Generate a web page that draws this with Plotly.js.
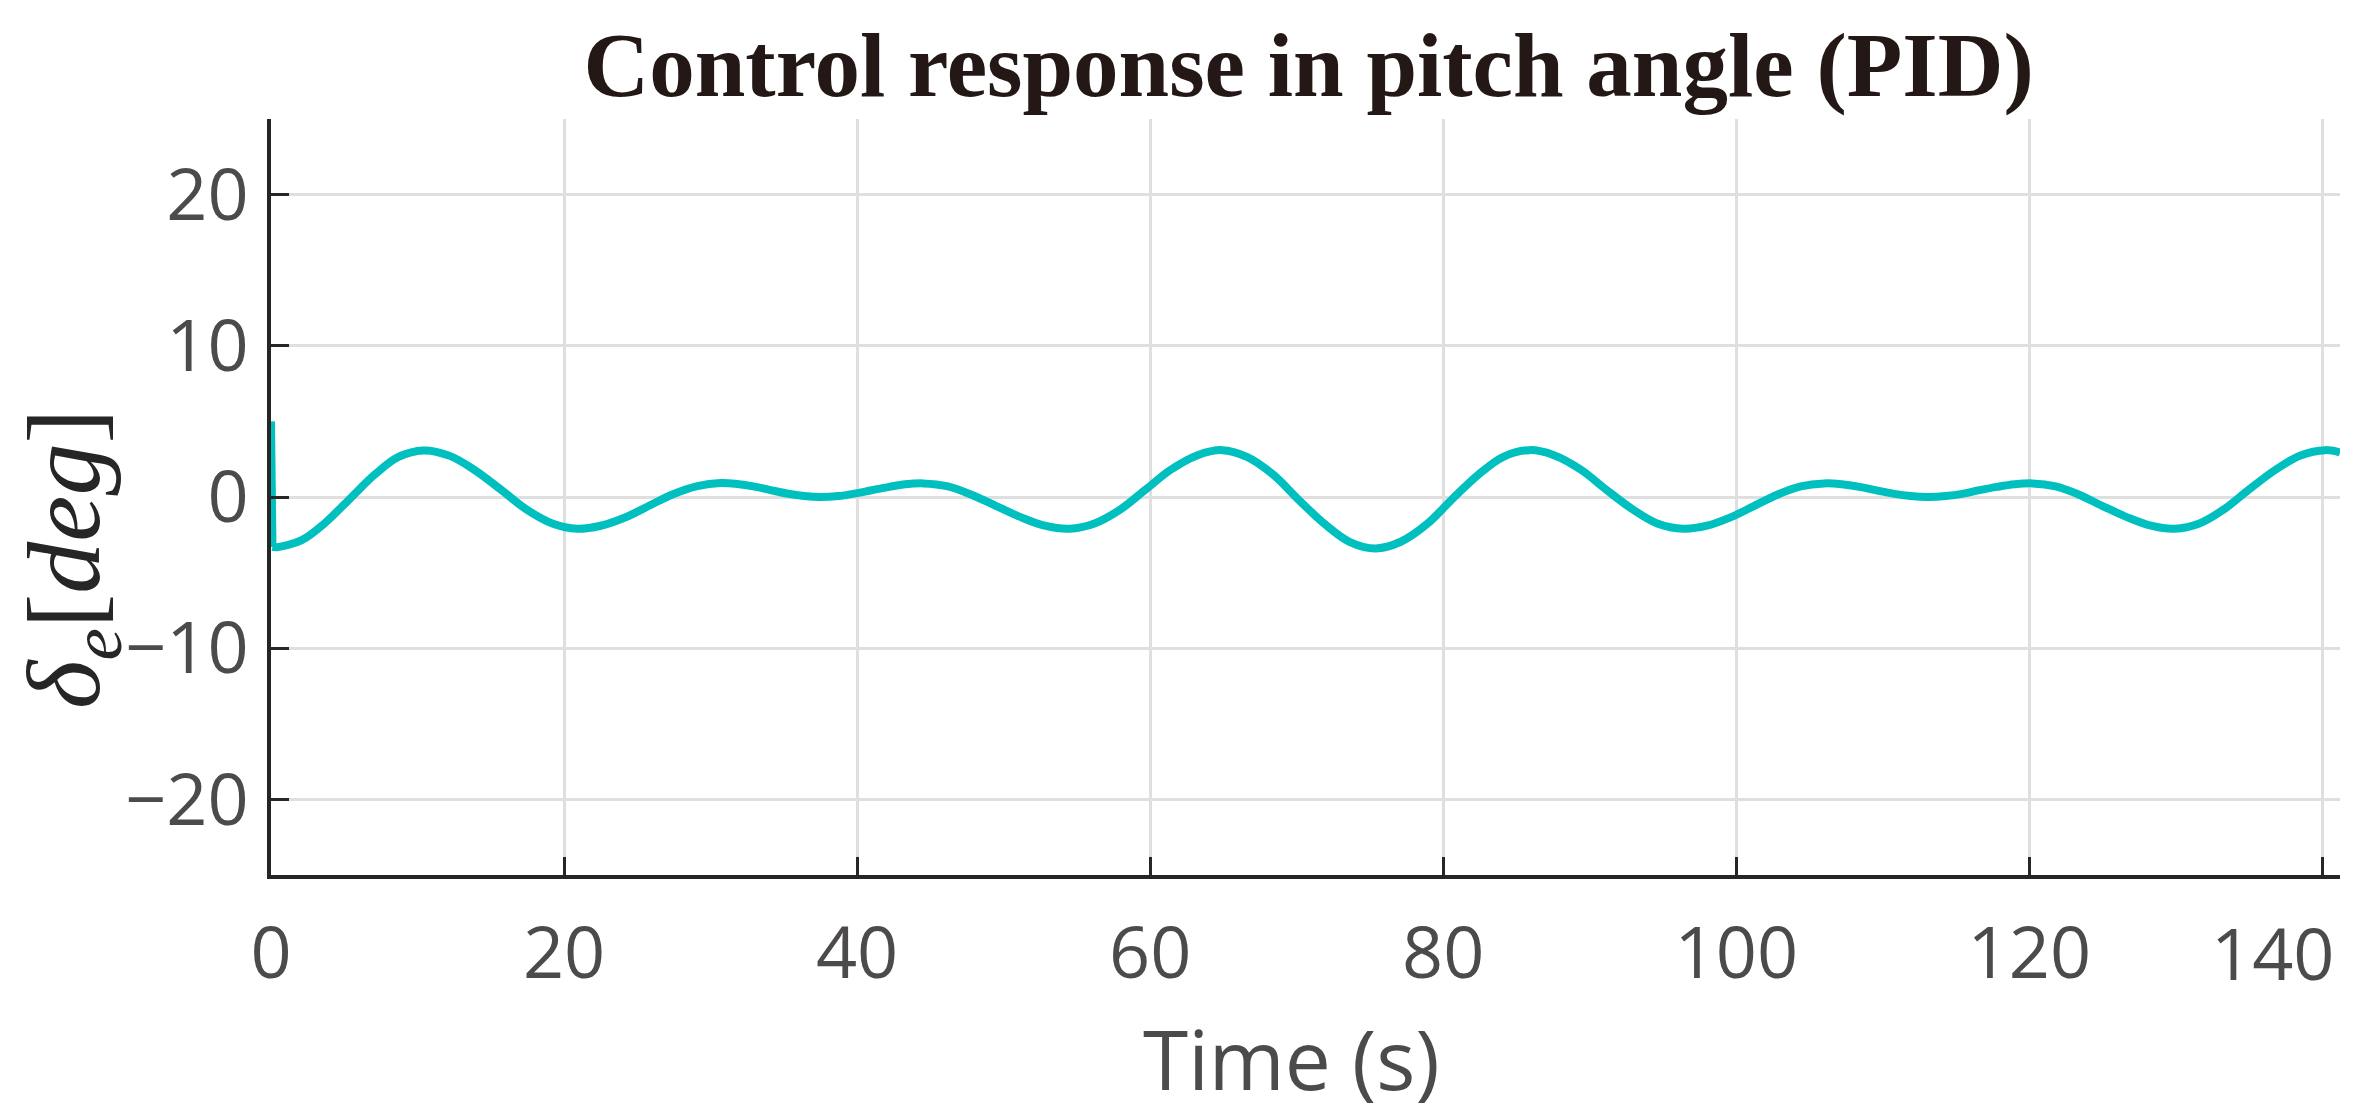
<!DOCTYPE html>
<html>
<head>
<meta charset="utf-8">
<script src="https://cdn.plot.ly/plotly-3.0.1.min.js"></script>
<style>
  html, body { margin: 0; padding: 0; background: #ffffff; }
  #chart { width: 2375px; height: 1119px; }
</style>
</head>
<body>
<div id="chart"></div>
<script>
// ---- Data ----
const chartTitle = "Control response in pitch angle (PID)";
const xTitle = "Time (s)";
const xTicks = [0, 20, 40, 60, 80, 100, 120, 140];
const xTickText = ["0", "20", "40", "60", "80", "100", "120", ""];
const lastTickLabel = "140";   // drawn right-aligned at the plot edge, as in the reference
const yTicks = [-20, -10, 0, 10, 20];

// initial spike at t = 0
const spikeTime = [0, 0.1];
const spikeValue = [5.0, -3.3];

// elevator deflection response (deg) vs time (s)
const time = [
  0.1, 0.4, 2.1, 3.7, 5.4, 7.1, 8.7, 10.4,
  12.2, 13.9, 15.7, 17.4, 19.2, 20.9,
  22.5, 24.2, 25.8, 27.4, 29.1, 30.7,
  31.8, 33.0, 34.1, 35.2, 36.4, 37.5,
  38.7, 39.8, 41.0, 42.2, 43.3, 44.5,
  46.2, 47.8, 49.5, 51.2, 52.8, 54.5,
  56.2, 58.0, 59.7, 61.4, 63.2, 64.9,
  66.6, 68.4, 70.1, 71.9, 73.6, 75.4,
  77.1, 78.9, 80.6, 82.4, 84.1, 85.9,
  87.6, 89.4, 91.1, 92.9, 94.6, 96.4,
  98.0, 99.6, 101.2, 102.8, 104.4, 106.0,
  107.2, 108.4, 109.5, 110.7, 111.9, 113.1,
  114.3, 115.5, 116.6, 117.8, 119.0, 120.2,
  121.8, 123.4, 125.0, 126.7, 128.3, 129.9,
  131.6, 133.3, 135.0, 136.8, 138.5, 140.2, 141.2
];
const elevator = [
  -3.3, -3.32, -2.85, -1.7, -0.1, 1.5, 2.65, 3.08,
  2.72, 1.78, 0.48, -0.8, -1.75, -2.1,
  -1.9, -1.34, -0.58, 0.17, 0.72, 0.92,
  0.86, 0.69, 0.46, 0.23, 0.06, 0.0,
  0.06, 0.22, 0.45, 0.67, 0.84, 0.9,
  0.7, 0.15, -0.6, -1.35, -1.9, -2.1,
  -1.75, -0.8, 0.5, 1.8, 2.75, 3.1,
  2.66, 1.48, -0.15, -1.78, -2.96, -3.4,
  -2.96, -1.78, -0.15, 1.48, 2.66, 3.1,
  2.75, 1.8, 0.5, -0.8, -1.75, -2.1,
  -1.9, -1.35, -0.6, 0.15, 0.7, 0.9,
  0.84, 0.67, 0.45, 0.22, 0.06, 0.0,
  0.06, 0.22, 0.45, 0.67, 0.84, 0.9,
  0.7, 0.15, -0.6, -1.35, -1.9, -2.1,
  -1.75, -0.8, 0.5, 1.8, 2.75, 3.1, 2.95
];

const lineColor = "#00bfbf";
const sansFamily = "'Open Sans', 'Noto Sans', Roboto, sans-serif";
const tickFont = { family: sansFamily, size: 72, color: "#4d4a4a" };

const traces = [
  { x: spikeTime, y: spikeValue, type: "scatter", mode: "lines",
    line: { color: lineColor, width: 8 }, hoverinfo: "skip", showlegend: false },
  { x: time, y: elevator, type: "scatter", mode: "lines",
    line: { color: lineColor, width: 8, shape: "spline", smoothing: 1.0 }, showlegend: false }
];

const axisCommon = {
  showline: true, linecolor: "#262626", linewidth: 4, mirror: false,
  showgrid: true, gridcolor: "#dfdfdf", gridwidth: 3,
  zeroline: false,
  ticks: "inside", ticklen: 18, tickwidth: 3, tickcolor: "#262626",
  tickfont: tickFont
};

const layout = {
  width: 2375, height: 1119,
  paper_bgcolor: "#ffffff", plot_bgcolor: "#ffffff",
  margin: { l: 271, r: 35, t: 119, b: 244, pad: 0 },
  showlegend: false,
  title: {
    text: "<b>" + chartTitle + "</b>",
    font: { family: "'Liberation Serif', 'Times New Roman', serif", size: 91, color: "#231815" },
    x: 0.551, xanchor: "center", xref: "container",
    y: 0.943, yanchor: "middle", yref: "container"
  },
  xaxis: Object.assign({}, axisCommon, {
    range: [0, 141.2], tickmode: "array", tickvals: xTicks, ticktext: xTickText,
    ticklabelstandoff: 13
  }),
  yaxis: Object.assign({}, axisCommon, {
    range: [-25, 25], tickmode: "array", tickvals: yTicks,
    ticklabelstandoff: 4
  }),
  annotations: [
    {
      text: lastTickLabel,
      xref: "x", yref: "paper", x: 141.0, y: -0.1015,
      xanchor: "right", yanchor: "middle", showarrow: false,
      font: tickFont
    },
    {
      text: xTitle,
      xref: "paper", yref: "paper", x: 0.493, y: -0.2425,
      xanchor: "center", yanchor: "middle", showarrow: false,
      font: { family: sansFamily, size: 82, color: "#4d4a4a" }
    },
    {
      text: "<i>δ</i><sub><i>e</i></sub>[<i>deg</i>]",
      xref: "paper", yref: "paper", x: -0.0962, y: 0.418,
      xanchor: "center", yanchor: "middle", textangle: -90, showarrow: false,
      font: { family: "'Liberation Serif', 'Times New Roman', serif", size: 104, color: "#262626" }
    }
  ]
};

Plotly.newPlot("chart", traces, layout, { staticPlot: true, displayModeBar: false });
</script>
</body>
</html>
